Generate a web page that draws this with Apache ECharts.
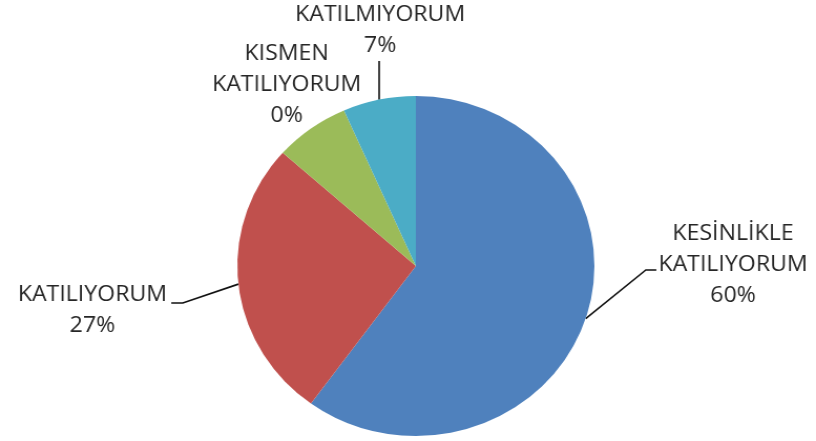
<!DOCTYPE html>
<html>
<head>
<meta charset="utf-8">
<script src="https://cdn.jsdelivr.net/npm/echarts@6/dist/echarts.min.js"></script>
<style>
  html, body { margin: 0; padding: 0; background: #fff; overflow: hidden; }
  /* the reference pie is slightly wider than tall, so the whole chart is stretched a bit */
  #chart { width: 777px; height: 441px; transform: scaleX(1.0502); transform-origin: 0 0; }
</style>
</head>
<body>
<div id="chart"></div>
<script>
const categories = ['KESİNLİKLE\nKATILIYORUM', 'KATILIYORUM', 'KISMEN\nKATILIYORUM', 'KATILMIYORUM'];
const values = [60, 26.6, 6.8, 6.6];
const percentLabels = ['60%', '27%', '0%', '7%'];
const colors = ['#4F81BD', '#C0504D', '#9BBB59', '#4BACC6'];

// where each label block sits (center x, center y), in chart pixels
const labelSpots = [
    [698, 265],
    [88, 310],
    [273, 85],
    [362, 30]
];

const chart = echarts.init(document.getElementById('chart'));

const data = categories.map((name, i) => {
    let item = { name: name, value: values[i] };
    if (i === 2) item.labelLine = { show: false };
    return item;
});

function leaderLine(i, p0, r) {
    if (i === 0) {
        const y = r.y + r.height / 2 + 5;
        const end = r.x - 2;
        return [p0, [end - 10, y], [end, y]];
    }
    if (i === 1) {
        const y = r.y + r.height / 2 - 7;
        const end = r.x + r.width + 4;
        return [p0, [end + 11, y], [end, y]];
    }
    if (i === 3) {
        const y = r.y + r.height;
        return [p0, [p0[0], y], [p0[0], y]];
    }
    return undefined;
}

chart.setOption({
    animation: false,
    color: colors,
    series: [
        {
            type: 'pie',
            center: [396, 266],
            radius: 170,
            startAngle: 90,
            clockwise: true,
            avoidLabelOverlap: false,
            data: data,
            itemStyle: { borderWidth: 0 },
            label: {
                show: true,
                position: 'outside',
                formatter: (p) => p.name + '\n' + percentLabels[p.dataIndex],
                fontFamily: 'Open Sans',
                fontSize: 22,
                lineHeight: 31,
                color: '#262626',
                align: 'center'
            },
            labelLine: {
                show: true,
                length: 20,
                length2: 10,
                lineStyle: { color: '#111', width: 1.6 }
            },
            labelLayout: function (params) {
                const i = params.dataIndex;
                const spot = labelSpots[i];
                const w = params.labelRect.width;
                const h = params.labelRect.height;
                const r = { x: spot[0] - w / 2, y: spot[1] - h / 2, width: w, height: h };
                const out = {
                    x: spot[0],
                    y: spot[1],
                    align: 'center',
                    verticalAlign: 'middle'
                };
                if (params.labelLinePoints) {
                    const pts = leaderLine(i, params.labelLinePoints[0], r);
                    if (pts) out.labelLinePoints = pts;
                }
                return out;
            },
            emphasis: { disabled: true }
        }
    ]
});
</script>
</body>
</html>
